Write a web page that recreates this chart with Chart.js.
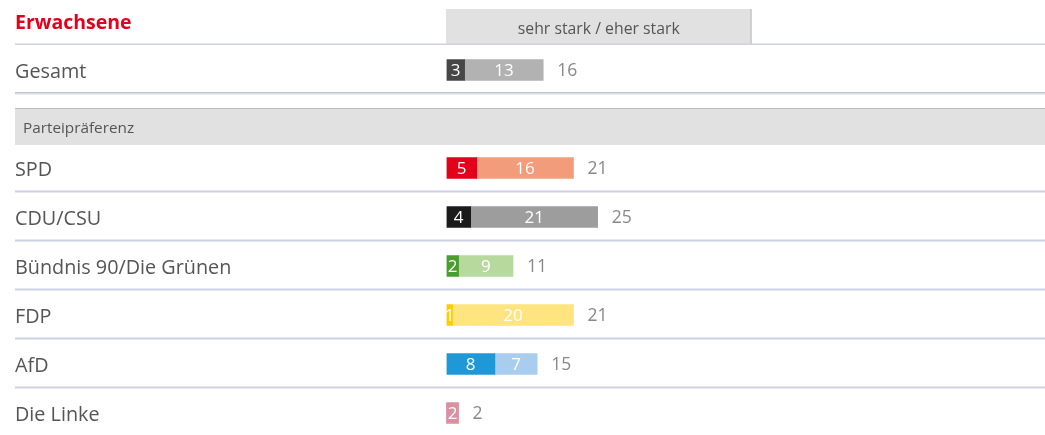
<!DOCTYPE html>
<html>
<head>
<meta charset="utf-8">
<script src="https://cdn.jsdelivr.net/npm/chart.js@4"></script>
<style>
  html, body { margin: 0; padding: 0; background: #fff; overflow: hidden; }
  #c { display: block; }
</style>
</head>
<body>
<canvas id="c" width="1045" height="440"></canvas>
<script>
// ---- data ----
const title = 'Erwachsene';
const headerLabel = 'sehr stark / eher stark';
const categories = ['Gesamt', 'Parteipräferenz', 'SPD', 'CDU/CSU', 'Bündnis 90/Die Grünen', 'FDP', 'AfD', 'Die Linke'];
const sectionRows = [false, true, false, false, false, false, false, false];
const sehrStark = [3, null, 5, 4, 2, 1, 8, 0];
const eherStark = [13, null, 16, 21, 9, 20, 7, 2];
const totals = [16, null, 21, 25, 11, 21, 15, 2];
const darkColors = ['#474747', null, '#e2001a', '#1b1b1b', '#4a9e2e', '#ffcc00', '#1f98d8', '#be3075'];
const lightColors = ['#b2b2b2', null, '#f39c7c', '#9d9d9d', '#b8d99e', '#ffe480', '#a9cdee', '#d9909f'];

const FONT = '"Open Sans", "Noto Sans", sans-serif';

const decor = {
  id: 'decor',
  beforeDatasetsDraw(chart) {
    const ctx = chart.ctx;
    const y = chart.scales.y;
    const left = 15, right = chart.width;
    const step = y.getPixelForValue(1) - y.getPixelForValue(0);
    ctx.save();
    // title
    ctx.fillStyle = '#e2001a';
    ctx.font = 'bold 19.5px ' + FONT;
    ctx.textBaseline = 'middle';
    ctx.textAlign = 'left';
    ctx.fillText(title, left, 23.5);
    // header box
    const hx0 = chart.chartArea.left - 0.5, hx1 = chart.chartArea.left + 305;
    ctx.fillStyle = '#e1e1e1';
    ctx.fillRect(hx0, 9, hx1 - hx0, 35);
    ctx.fillStyle = '#b5b5b5';
    ctx.fillRect(hx1 - 1, 9, 1, 35);
    ctx.fillStyle = '#555';
    ctx.font = '15.8px ' + FONT;
    ctx.textAlign = 'center';
    ctx.fillText(headerLabel, (hx0 + hx1) / 2, 29);
    // top line
    ctx.fillStyle = '#cdd1e4';
    ctx.fillRect(left, 43.5, right - left, 1.5);
    categories.forEach((c, i) => {
      const cy = y.getPixelForValue(i);
      if (sectionRows[i]) {
        const top = cy - 11, bot = cy + 26;
        ctx.fillStyle = '#e1e1e1';
        ctx.fillRect(left, top, right - left, bot - top);
        ctx.fillStyle = '#bdbdbd';
        ctx.fillRect(left, top, right - left, 1);
        ctx.fillStyle = '#555';
        ctx.font = '15.3px ' + FONT;
        ctx.textAlign = 'left';
        ctx.fillText(c, 23, cy + 10);
        return;
      }
      ctx.fillStyle = '#555';
      ctx.font = '19.8px ' + FONT;
      ctx.textAlign = 'left';
      ctx.fillText(c, left, cy + 2);
      // separator below row
      if (i < categories.length - 1) {
        const by = cy + step / 2 - 1;
        if (sectionRows[i + 1]) {
          ctx.fillStyle = '#c4c4c4';
          ctx.fillRect(left, by - 1.5, right - left, 1);
          ctx.fillStyle = '#d8dcec';
          ctx.fillRect(left, by - 0.5, right - left, 1.5);
        } else {
          ctx.fillStyle = '#cdd1e4';
          ctx.fillRect(left, by - 1, right - left, 2);
        }
      }
    });
    ctx.restore();
  },
  afterDatasetsDraw(chart) {
    const ctx = chart.ctx;
    const x = chart.scales.x;
    const y = chart.scales.y;
    ctx.save();
    ctx.textBaseline = 'middle';
    chart.data.datasets.forEach((ds, di) => {
      const meta = chart.getDatasetMeta(di);
      meta.data.forEach((el, i) => {
        const v = ds.data[i];
        if (!v) return;
        ctx.fillStyle = '#ffffff';
        ctx.font = '17px ' + FONT;
        ctx.textAlign = 'center';
        const cx = (el.x + el.base) / 2;
        ctx.fillText(String(v), cx, el.y + 1);
      });
    });
    totals.forEach((t, i) => {
      if (t == null) return;
      ctx.fillStyle = '#888888';
      ctx.font = '17.5px ' + FONT;
      ctx.textAlign = 'left';
      ctx.fillText(String(t), x.getPixelForValue(t) + 14, y.getPixelForValue(i) + 1.5);
    });
    ctx.restore();
  }
};

new Chart(document.getElementById('c'), {
  type: 'bar',
  data: {
    labels: categories,
    datasets: [
      { label: 'sehr stark', data: sehrStark, backgroundColor: darkColors, borderWidth: 0 },
      { label: 'eher stark', data: eherStark, backgroundColor: lightColors, borderWidth: 0 }
    ]
  },
  options: {
    indexAxis: 'y',
    responsive: false,
    devicePixelRatio: 1,
    animation: false,
    layout: { padding: { top: 45.5, left: 446.5, right: 0, bottom: 2.5 } },
    datasets: { bar: { barThickness: 21 } },
    scales: {
      x: { stacked: true, min: 0, max: 99, display: false },
      y: { stacked: true, display: false }
    },
    plugins: {
      legend: { display: false },
      tooltip: { enabled: false }
    }
  },
  plugins: [decor]
});
</script>
</body>
</html>
